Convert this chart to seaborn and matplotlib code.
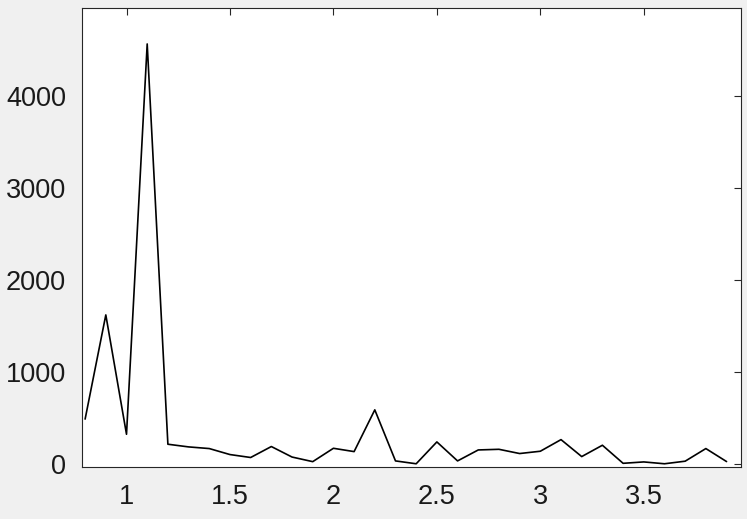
import matplotlib
matplotlib.use("Agg")
import matplotlib.pyplot as plt
import seaborn as sns
import pandas as pd

x_vals = [0.8, 0.9, 1.0, 1.1, 1.2, 1.3, 1.4, 1.5, 1.6, 1.7, 1.8, 1.9,
          2.0, 2.1, 2.2, 2.3, 2.4, 2.5, 2.6, 2.7, 2.8, 2.9, 3.0, 3.1,
          3.2, 3.3, 3.4, 3.5, 3.6, 3.7, 3.8, 3.9]
y_vals = [490, 1620, 325, 4560, 217, 188, 170, 105, 73, 192, 78, 28,
          173, 137, 590, 36, 5, 242, 36, 155, 162, 116, 141, 267,
          83, 206, 10, 25, 5, 33, 170, 29]
x_ticks = [1, 1.5, 2, 2.5, 3, 3.5]
x_tick_labels = ["1", "1.5", "2", "2.5", "3", "3.5"]
y_ticks = [0, 1000, 2000, 3000, 4000]

sns.set_style("white")
plt.rcParams['font.family'] = ['Liberation Sans', 'DejaVu Sans']

df = pd.DataFrame({"x": x_vals, "y": y_vals})

fig = plt.figure(figsize=(7.47, 5.19), dpi=100, facecolor="#f0f0f0")
ax = fig.add_axes([0.1098, 0.1002, 0.8822, 0.8844])
sns.lineplot(data=df, x="x", y="y", color="black", linewidth=1.2, ax=ax)

ax.set_xlim(0.785, 3.97)
ax.set_ylim(-30, 4950)
ax.set_xticks(x_ticks)
ax.set_xticklabels(x_tick_labels)
ax.set_yticks(y_ticks)
ax.set_xlabel("")
ax.set_ylabel("")

ax.tick_params(direction="in", length=5, width=0.8, colors="#262626",
               labelcolor="#1a1a1a", labelsize=19.5, top=True, right=True)
ax.tick_params(axis="x", pad=12.5)
ax.tick_params(axis="y", pad=11.5)
for s in ax.spines.values():
    s.set_color("#262626")
    s.set_linewidth(0.8)

fig.savefig("out.png", dpi=100, facecolor=fig.get_facecolor())
